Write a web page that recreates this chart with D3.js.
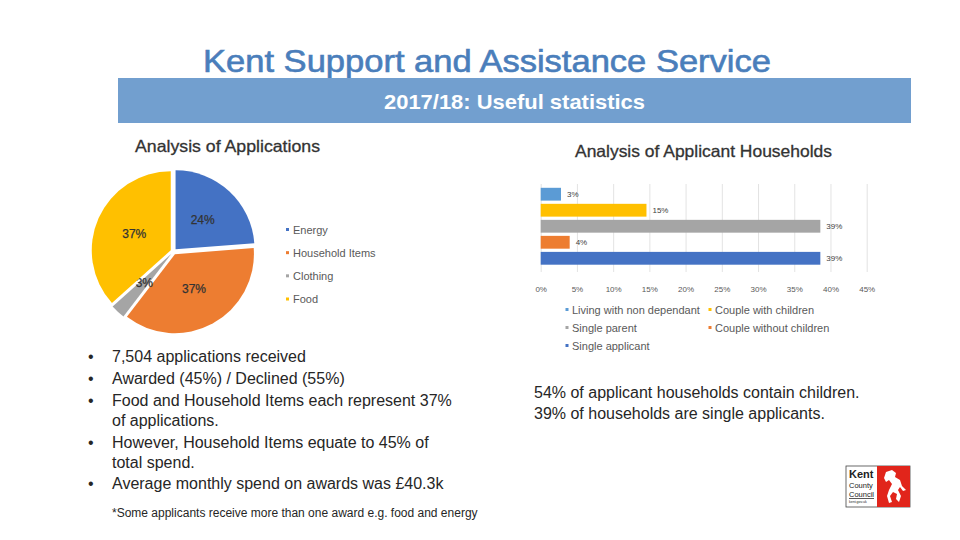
<!DOCTYPE html>
<html>
<head>
<meta charset="utf-8">
<script src="https://cdn.jsdelivr.net/npm/d3@7"></script>
<style>
  body { margin: 0; background: #fff; }
  svg { display: block; font-family: "Liberation Sans", Arial, sans-serif; }
</style>
</head>
<body>
<svg id="chart" width="960" height="540"></svg>
<script>
// ---- Data ----
const pieCategories = ["Energy", "Household Items", "Clothing", "Food"];
const pieValues = [24, 37, 3, 37];
const pieColors = ["#4472c4", "#ed7d31", "#a5a5a5", "#ffc000"];

const barCategories = ["Living with non dependant", "Couple with children", "Single parent", "Couple without children", "Single applicant"];
const barValues = [2.8, 14.6, 38.6, 4.0, 38.6];
const barColors = ["#5b9bd5", "#ffc000", "#a5a5a5", "#ed7d31", "#4472c4"];
const barTicks = [0, 5, 10, 15, 20, 25, 30, 35, 40, 45];

const bullets = [
  ["7,504 applications received"],
  ["Awarded (45%) / Declined (55%)"],
  ["Food and Household Items each represent 37%", "of applications."],
  ["However, Household Items equate to 45% of", "total spend."],
  ["Average monthly spend on awards was £40.3k"]
];
const summaryLines = ["54% of applicant households contain children.", "39% of households are single applicants."];

const svg = d3.select("#chart");

// ---- Title & banner ----
svg.append("text").attr("x", 203).attr("y", 72)
  .attr("font-size", 30.5).attr("fill", "#4a7ebb")
  .attr("stroke", "#4a7ebb").attr("stroke-width", 0.6)
  .attr("textLength", 568).attr("lengthAdjust", "spacingAndGlyphs")
  .text("Kent Support and Assistance Service");
svg.append("rect").attr("x", 118).attr("y", 78).attr("width", 793).attr("height", 45).attr("fill", "#729fcf");
svg.append("text").attr("x", 384).attr("y", 108.5)
  .attr("font-size", 21).attr("font-weight", "bold").attr("fill", "#fff")
  .attr("textLength", 261).attr("lengthAdjust", "spacingAndGlyphs")
  .text("2017/18: Useful statistics");

svg.append("text").attr("x", 135).attr("y", 152).attr("font-size", 16.5)
  .attr("fill", "#333").attr("stroke", "#333").attr("stroke-width", 0.3)
  .attr("textLength", 185).attr("lengthAdjust", "spacingAndGlyphs").text("Analysis of Applications");
svg.append("text").attr("x", 575).attr("y", 157).attr("font-size", 16.5)
  .attr("fill", "#333").attr("stroke", "#333").attr("stroke-width", 0.3)
  .attr("textLength", 257).attr("lengthAdjust", "spacingAndGlyphs").text("Analysis of Applicant Households");

// ---- Pie ----
const cx = 173.5, cy = 251.5, R = 79, explode = 3;
const pie = d3.pie().sort(null).value(d => d);
const arcs = pie(pieValues);
const arc = d3.arc().innerRadius(0).outerRadius(R);
const gPie = svg.append("g").attr("transform", `translate(${cx},${cy})`);
arcs.forEach((a, i) => {
  const mid = (a.startAngle + a.endAngle) / 2;
  const dx = Math.sin(mid) * explode, dy = -Math.cos(mid) * explode;
  const g = gPie.append("g").attr("transform", `translate(${dx},${dy})`);
  g.append("path").attr("d", arc(a)).attr("fill", pieColors[i]);
  const lr = 40;
  g.append("text").attr("x", Math.sin(mid) * lr).attr("y", -Math.cos(mid) * lr + 4)
    .attr("text-anchor", "middle").attr("font-size", 12).attr("fill", "#333")
    .attr("stroke", "#333").attr("stroke-width", 0.25)
    .text(pieValues[i] + "%");
});

// pie legend
const legY = d3.scalePoint().domain(pieCategories).range([229.5, 299]);
pieCategories.forEach((c, i) => {
  svg.append("rect").attr("x", 286).attr("y", legY(c) - 1.5).attr("width", 3).attr("height", 3).attr("fill", pieColors[i]);
  svg.append("text").attr("x", 293).attr("y", legY(c) + 4).attr("font-size", 11).attr("fill", "#595959").text(c);
});

// ---- Bar chart ----
const x = d3.scaleLinear().domain([0, 45]).range([540.7, 866.7]);
const y = d3.scaleBand().domain(barCategories).range([187, 265.5]).paddingInner(0.2).paddingOuter(0.05);
const gridTop = 184, gridBottom = 272;
const axis = svg.append("g").attr("transform", `translate(0,${gridBottom})`)
  .call(d3.axisBottom(x).tickValues(barTicks).tickFormat(d => d + "%").tickSize(-(gridBottom - gridTop)).tickPadding(14));
axis.select(".domain").remove();
axis.selectAll(".tick line").attr("stroke", "#e3e3e3");
axis.selectAll(".tick text").attr("font-size", 8).attr("fill", "#595959").attr("font-family", "Liberation Sans, Arial, sans-serif");

svg.append("g").selectAll("rect").data(barCategories).join("rect")
  .attr("x", x(0)).attr("y", d => y(d)).attr("height", y.bandwidth())
  .attr("width", (d, i) => x(barValues[i]) - x(0)).attr("fill", (d, i) => barColors[i]);
svg.append("g").selectAll("text").data(barCategories).join("text")
  .attr("x", (d, i) => x(barValues[i]) + 6).attr("y", d => y(d) + y.bandwidth() / 2 + 3)
  .attr("font-size", 8).attr("fill", "#404040")
  .text((d, i) => Math.round(barValues[i]) + "%");

// bar legend
const legPos = [[567, 309.5], [710, 309.5], [567, 327.5], [710, 327.5], [567, 345.5]];
barCategories.forEach((c, k) => {
  const [lx, ly] = legPos[k];
  svg.append("rect").attr("x", lx - 1.5).attr("y", ly - 1.5).attr("width", 3).attr("height", 3).attr("fill", barColors[k]);
  svg.append("text").attr("x", lx + 5).attr("y", ly + 4).attr("font-size", 11).attr("fill", "#595959").text(c);
});

// ---- Bullets ----
let by = 362;
bullets.forEach(lines => {
  svg.append("text").attr("x", 88).attr("y", by).attr("font-size", 16).attr("fill", "#262626").text("•");
  lines.forEach((ln, j) => {
    svg.append("text").attr("x", 112).attr("y", by + j * 20).attr("font-size", 16).attr("fill", "#262626").text(ln);
  });
  by += 22 + (lines.length - 1) * 19.5;
});
svg.append("text").attr("x", 112).attr("y", 517).attr("font-size", 12).attr("fill", "#262626")
  .text("*Some applicants receive more than one award e.g. food and energy");

summaryLines.forEach((t, i) => {
  svg.append("text").attr("x", 534).attr("y", 397.5 + i * 21).attr("font-size", 16).attr("fill", "#262626").text(t);
});

// ---- Logo ----
const logo = svg.append("g").attr("transform", "translate(846,466)");
logo.append("rect").attr("x", 0).attr("y", 0).attr("width", 64).attr("height", 41).attr("fill", "#fff").attr("stroke", "#444").attr("stroke-width", 0.8);
logo.append("rect").attr("x", 31).attr("y", 0).attr("width", 33).attr("height", 41).attr("fill", "#e1251b");
logo.append("text").attr("x", 3).attr("y", 12).attr("font-size", 11).attr("font-weight", "bold").attr("fill", "#222").text("Kent");
logo.append("text").attr("x", 3).attr("y", 22).attr("font-size", 7.5).attr("fill", "#222").text("County");
logo.append("text").attr("x", 3).attr("y", 31).attr("font-size", 7.5).attr("fill", "#222").attr("text-decoration", "underline").text("Council");
logo.append("text").attr("x", 3).attr("y", 37).attr("font-size", 3.5).attr("fill", "#222").text("kent.gov.uk");
logo.append("path").attr("fill", "#fff")
  .attr("d", "M40,6 L46,4 L50,7 L49,11 L54,14 L56,20 L60,24 L57,25 L54,21 L52,24 L55,30 L53,36 L50,33 L51,28 L47,26 L44,30 L46,36 L43,37 L41,30 L43,24 L46,18 L43,14 L40,16 L38,12 Z");
</script>
</body>
</html>
